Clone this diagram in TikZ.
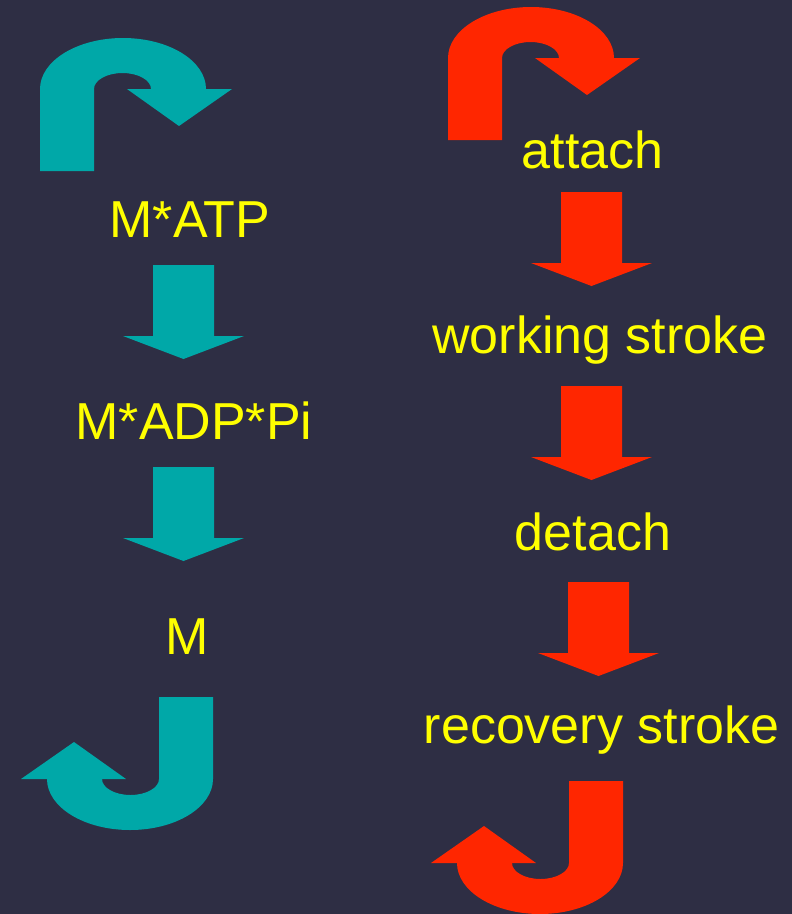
\documentclass[tikz,border=0pt]{standalone}
\usepackage{fontspec}
\setmainfont{Liberation Sans}
\definecolor{bgnavy}{RGB}{46,46,68}
\definecolor{cycleteal}{RGB}{0,168,168}
\definecolor{cyclered}{RGB}{255,38,0}
\definecolor{labelyellow}{RGB}{255,255,0}

\begin{document}
\begin{tikzpicture}[
    x=1pt, y=-1pt,
    every node/.style={font=\fontsize{52}{60}\selectfont,text=labelyellow,inner sep=0pt,anchor=base},
    pics/uturn/.style={code={
        \fill[#1] (-83,82) -- (-83,0) .. controls (-83,-28.2) and (-45.8,-51) .. (0,-51)
            .. controls (45.8,-51) and (83,-28.2) .. (83,0) -- (109,0) -- (56,37) -- (4,0) -- (28,0)
            .. controls (28,-8.8) and (15.2,-16) .. (-0.5,-16)
            .. controls (-16.2,-16) and (-29,-8.8) .. (-29,0) -- (-29,82) -- cycle;}},
    pics/downblock/.style={code={
        \fill[#1] (-30.5,0) -- (30.5,0) -- (30.5,71) -- (60.5,71) -- (0,94) -- (-60.5,71) -- (-30.5,71) -- cycle;}}
]
\useasboundingbox (0,0) rectangle (792,914);
\fill[bgnavy] (0,0) rectangle (792,914);

% myosin states
\pic at (123,89) {uturn=cycleteal};
\node (matp) at (190,237) {M*ATP};
\pic at (183.5,265) {downblock=cycleteal};
\node (madp) at (194,439) {M*ADP*Pi};
\pic at (183.5,467) {downblock=cycleteal};
\node (m) at (187,654) {M};
\pic[rotate=180] at (130,779) {uturn=cycleteal};

% cross-bridge steps
\pic at (531,58) {uturn=cyclered};
\node (attach) at (592.5,168) {attach};
\pic at (591.5,192) {downblock=cyclered};
\node (working) at (600,353) {working stroke};
\pic at (591.5,386) {downblock=cyclered};
\node (detach) at (593,550) {detach};
\pic at (598.5,582) {downblock=cyclered};
\node (recovery) at (601.5,743) {recovery stroke};
\pic[rotate=180] at (540,863) {uturn=cyclered};

\end{tikzpicture}
\end{document}
